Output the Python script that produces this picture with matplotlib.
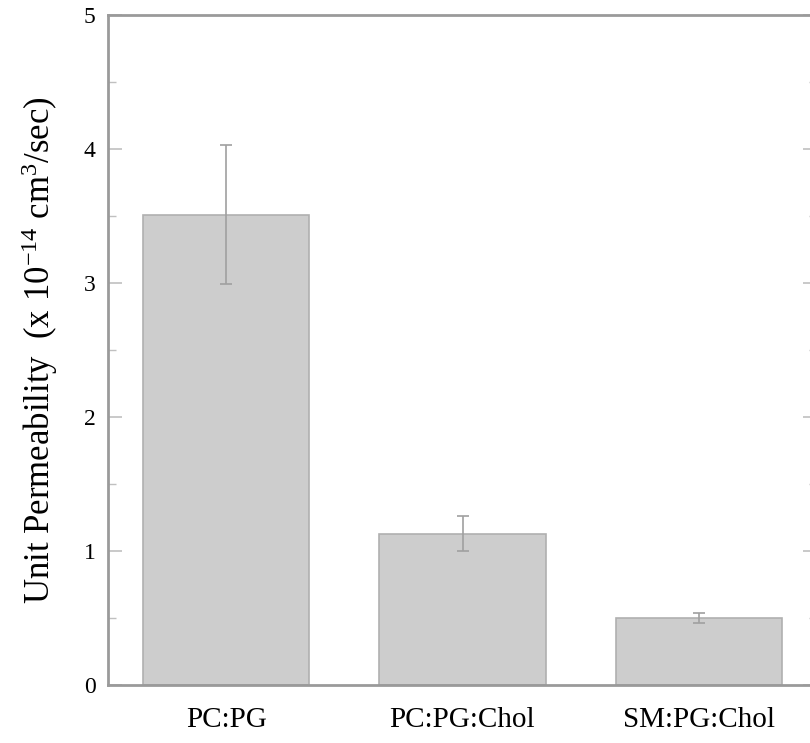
import matplotlib
matplotlib.use("Agg")
import matplotlib.pyplot as plt
from matplotlib.ticker import MultipleLocator

# values
groups = ["PC:PG", "PC:PG:Chol", "SM:PG:Chol"]
permeability = [3.51, 1.13, 0.50]
errors = [0.52, 0.13, 0.04]

plt.rcParams["font.family"] = ["Liberation Serif", "DejaVu Serif"]
plt.rcParams["mathtext.fontset"] = "custom"
plt.rcParams["mathtext.rm"] = "Liberation Serif"
plt.rcParams["mathtext.it"] = "Liberation Serif:italic"

fig = plt.figure(figsize=(8.10, 7.43), dpi=100)
# right edge sits just past the image border, like the original crop
ax = fig.add_axes([108 / 810, 1 - 685 / 743, 709 / 810, 670 / 743])

spine_grey = "#9a9a9a"
x = range(len(groups))
ax.bar(x, permeability, width=0.703, color="#cdcdcd", edgecolor="#b0b0b0",
       linewidth=1.2, zorder=2)
ax.errorbar(x, permeability, yerr=errors, fmt="none", ecolor="#a0a0a0",
            elinewidth=1.2, capsize=4, capthick=1.2, zorder=3)

ax.set_xlim(-0.5, 2.5)
ax.set_ylim(0, 5)
ax.set_xticks(list(x))
ax.set_xticklabels(groups, fontsize=21)
ax.yaxis.set_major_locator(MultipleLocator(1))
ax.yaxis.set_minor_locator(MultipleLocator(0.5))
ax.tick_params(axis="x", length=0, pad=16)
ax.tick_params(axis="y", which="both", direction="in", left=True, right=True,
               color="#c0c0c0", labelsize=17, pad=9)
ax.tick_params(axis="y", which="major", length=10, width=1.2)
ax.tick_params(axis="y", which="minor", length=6, width=1.0)

for s in ax.spines.values():
    s.set_color(spine_grey)
    s.set_linewidth(2)

ax.set_ylabel(r"Unit Permeability  (x 10$^{-14}$ cm$^{3}$/sec)", fontsize=25)
ax.yaxis.set_label_coords(-0.068, 0.5)

plt.savefig("out.png", dpi=100)
